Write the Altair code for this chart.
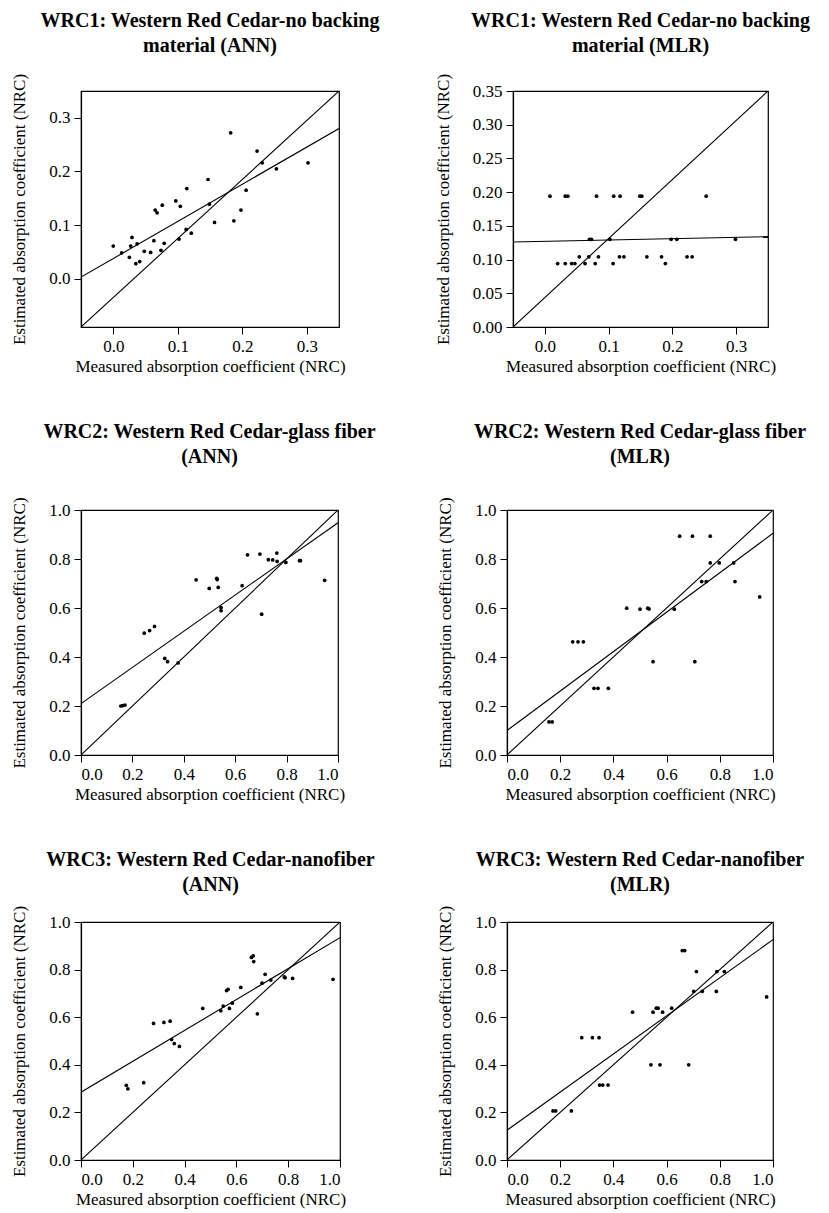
import altair as alt
import pandas as pd

FONT = "Liberation Serif"

titles = [
    ["WRC1: Western Red Cedar-no backing", "material (ANN)"],
    ["WRC1: Western Red Cedar-no backing", "material (MLR)"],
    ["WRC2: Western Red Cedar-glass fiber", "(ANN)"],
    ["WRC2: Western Red Cedar-glass fiber", "(MLR)"],
    ["WRC3: Western Red Cedar-nanofiber", "(ANN)"],
    ["WRC3: Western Red Cedar-nanofiber", "(MLR)"],
]

# Panel 1: WRC1 ANN
p1_x = [0.000, 0.013, 0.025, 0.027, 0.029, 0.035, 0.037, 0.041, 0.048, 0.058, 0.063,
        0.065, 0.068, 0.074, 0.076, 0.079, 0.097, 0.102, 0.104, 0.113, 0.114, 0.121,
        0.147, 0.149, 0.157, 0.182, 0.187, 0.198, 0.206, 0.223, 0.231, 0.253, 0.302]
p1_y = [0.061, 0.048, 0.040, 0.061, 0.077, 0.028, 0.065, 0.032, 0.051, 0.049, 0.071,
        0.128, 0.123, 0.053, 0.137, 0.066, 0.145, 0.074, 0.135, 0.092, 0.168, 0.085,
        0.185, 0.139, 0.105, 0.272, 0.108, 0.128, 0.165, 0.238, 0.216, 0.205, 0.216]

# Panel 2: WRC1 MLR
p2_x = [0.008, 0.032, 0.036, 0.081, 0.108, 0.118, 0.149, 0.152, 0.253,
        0.070, 0.073, 0.102, 0.198, 0.207, 0.299,
        0.054, 0.069, 0.084, 0.117, 0.124, 0.160, 0.183, 0.223, 0.231,
        0.020, 0.032, 0.042, 0.047, 0.063, 0.079, 0.107, 0.189]
p2_y = [0.194, 0.194, 0.194, 0.194, 0.194, 0.194, 0.194, 0.194, 0.194,
        0.130, 0.130, 0.130, 0.130, 0.130, 0.130,
        0.104, 0.104, 0.104, 0.104, 0.104, 0.104, 0.104, 0.104, 0.104,
        0.094, 0.094, 0.094, 0.094, 0.094, 0.094, 0.094, 0.094]

# Panel 3: WRC2 ANN
p3_x = [0.155, 0.162, 0.171, 0.246, 0.267, 0.286, 0.326, 0.337, 0.378, 0.448, 0.499,
        0.528, 0.530, 0.534, 0.545, 0.545, 0.627, 0.648, 0.696, 0.703, 0.729, 0.746,
        0.762, 0.763, 0.797, 0.850, 0.854, 0.948]
p3_y = [0.200, 0.202, 0.204, 0.497, 0.508, 0.525, 0.394, 0.381, 0.376, 0.715, 0.680,
        0.721, 0.716, 0.684, 0.602, 0.589, 0.691, 0.817, 0.820, 0.575, 0.797, 0.796,
        0.824, 0.790, 0.786, 0.793, 0.793, 0.713]

# Panel 4: WRC2 MLR
p4_x = [0.158, 0.170, 0.247, 0.267, 0.287, 0.327, 0.342, 0.381, 0.450, 0.500, 0.529,
        0.534, 0.549, 0.629, 0.649, 0.697, 0.706, 0.732, 0.749, 0.764, 0.764, 0.798,
        0.852, 0.857, 0.950]
p4_y = [0.135, 0.135, 0.462, 0.462, 0.462, 0.272, 0.272, 0.272, 0.599, 0.595, 0.599,
        0.596, 0.381, 0.595, 0.893, 0.893, 0.381, 0.708, 0.708, 0.893, 0.784, 0.784,
        0.784, 0.708, 0.645]

# Panel 5: WRC3 ANN
p5_x = [0.175, 0.181, 0.242, 0.280, 0.320, 0.344, 0.350, 0.360, 0.380, 0.470, 0.540,
        0.549, 0.562, 0.568, 0.573, 0.584, 0.617, 0.658, 0.665, 0.667, 0.681, 0.699,
        0.711, 0.733, 0.785, 0.788, 0.817, 0.973]
p5_y = [0.314, 0.299, 0.325, 0.574, 0.578, 0.583, 0.506, 0.489, 0.477, 0.637, 0.627,
        0.647, 0.712, 0.717, 0.637, 0.659, 0.725, 0.851, 0.858, 0.834, 0.614, 0.743,
        0.780, 0.756, 0.769, 0.766, 0.763, 0.759]

# Panel 6: WRC3 MLR
p6_x = [0.173, 0.183, 0.242, 0.281, 0.321, 0.346, 0.348, 0.360, 0.380, 0.472, 0.541,
        0.549, 0.561, 0.568, 0.575, 0.585, 0.619, 0.659, 0.668, 0.683, 0.702, 0.712,
        0.734, 0.787, 0.789, 0.817, 0.976]
p6_y = [0.206, 0.206, 0.206, 0.514, 0.514, 0.514, 0.315, 0.315, 0.315, 0.621, 0.400,
        0.621, 0.638, 0.638, 0.400, 0.621, 0.638, 0.880, 0.880, 0.400, 0.708, 0.792,
        0.708, 0.708, 0.792, 0.792, 0.685]

xs = [p1_x, p2_x, p3_x, p4_x, p5_x, p6_x]
ys = [p1_y, p2_y, p3_y, p4_y, p5_y, p6_y]

# Fitted regression lines (intercept, slope)
fit_intercept = [0.0376, 0.127, 0.210, 0.100, 0.285, 0.125]
fit_slope = [0.6925, 0.020, 0.738, 0.805, 0.649, 0.801]
# Reference (diagonal) lines
ref_intercept = [-0.035, 0.04375, 0.0, 0.0, 0.0, 0.0]
ref_slope = [1.1, 0.875, 1.0, 1.0, 1.0, 1.0]

x_domains = [[-0.05, 0.35], [-0.05, 0.35], [0, 1], [0, 1], [0, 1], [0, 1]]
y_domains = [[-0.09, 0.35], [0, 0.35], [0, 1], [0, 1], [0, 1], [0, 1]]
x_ticks = [[0, 0.1, 0.2, 0.3], [0, 0.1, 0.2, 0.3]] + [[0, 0.2, 0.4, 0.6, 0.8, 1.0]] * 4
y_ticks = [[0, 0.1, 0.2, 0.3], [0, 0.05, 0.1, 0.15, 0.2, 0.25, 0.3, 0.35]] + [[0, 0.2, 0.4, 0.6, 0.8, 1.0]] * 4
y_formats = [".1f", ".2f", ".1f", ".1f", ".1f", ".1f"]

widths = [258, 255, 257, 266, 259, 266]
heights = [236, 236, 245, 245, 238, 238]
title_offsets = [17, 17, 30, 30, 10, 10]

XT = "Measured absorption coefficient (NRC)"
YT = "Estimated absorption coefficient (NRC)"


def panel(i):
    pts = pd.DataFrame({"x": xs[i], "y": ys[i]})
    x0, x1 = x_domains[i]
    rows = []
    for name, a, b in [("fit", fit_intercept[i], fit_slope[i]), ("ref", ref_intercept[i], ref_slope[i])]:
        rows.append({"x": x0, "y": a + b * x0, "line": name})
        rows.append({"x": x1, "y": a + b * x1, "line": name})
    lines = pd.DataFrame(rows)

    xenc = alt.X("x:Q", scale=alt.Scale(domain=x_domains[i], nice=False, zero=False),
                 axis=alt.Axis(values=x_ticks[i], format=".1f", title=XT))
    yenc = alt.Y("y:Q", scale=alt.Scale(domain=y_domains[i], nice=False, zero=False),
                 axis=alt.Axis(values=y_ticks[i], format=y_formats[i], title=YT))

    pt = alt.Chart(pts).mark_circle(color="black", size=14, opacity=1).encode(x=xenc, y=yenc)
    ln = alt.Chart(lines).mark_line(color="black", strokeWidth=1.1, clip=True).encode(
        x=xenc, y=yenc, detail="line:N")
    return alt.layer(ln, pt).properties(
        width=widths[i], height=heights[i],
        title=alt.TitleParams(titles[i], font=FONT, fontSize=20, fontWeight="bold",
                              anchor="middle", offset=title_offsets[i], color="black",
                              lineHeight=25),
    )


row1 = alt.hconcat(panel(0), panel(1), spacing=174, bounds="flush")
row2 = alt.hconcat(panel(2), panel(3), spacing=169, bounds="flush")
row3 = alt.hconcat(panel(4), panel(5), spacing=167, bounds="flush")

chart = alt.vconcat(row1, row2, row3, spacing=46).properties(
    padding={"left": 2, "top": 2, "right": 5, "bottom": 5}
).configure_view(
    stroke="black", strokeWidth=1.2
).configure_axis(
    grid=False, domainColor="black", tickColor="black", labelColor="black",
    titleColor="black", labelFont=FONT, titleFont=FONT, labelFontSize=17,
    titleFontSize=17, titleFontWeight="normal", tickSize=7, labelPadding=4,
    domainWidth=1.2,
).configure_axisY(
    titlePadding=20
).configure_axisX(
    titlePadding=4
)

chart.save("out.html", embed_options={"renderer": "svg", "actions": False})
